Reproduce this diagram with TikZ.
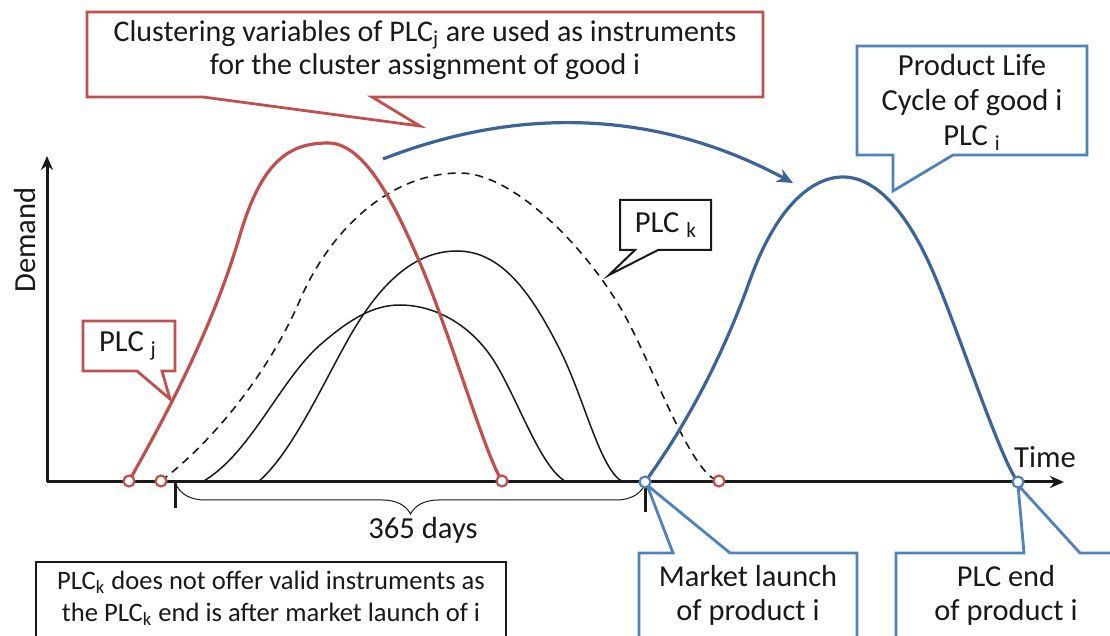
\documentclass[tikz,border=0pt]{standalone}
\usepackage{fontspec}
\setmainfont{Carlito}
\usetikzlibrary{arrows.meta,decorations.pathreplacing}
\definecolor{plcred}{RGB}{192,80,77}
\definecolor{plcblue}{RGB}{60,100,150}
\definecolor{callblue}{RGB}{79,129,189}
\definecolor{ink}{RGB}{25,25,25}
\begin{document}
\begin{tikzpicture}[x=0.5pt,y=-0.5pt,
  axis/.style={line width=1.5pt,ink,-{Stealth[length=7pt,width=6pt]}},
  tickmark/.style={line width=1.5pt,ink},
  redcurve/.style={line width=1.6pt,plcred},
  bluecurve/.style={line width=1.6pt,plcblue},
  othercurve/.style={line width=0.75pt,ink},
  dashcurve/.style={line width=0.8pt,ink,dash pattern=on 4pt off 3pt},
  redring/.style={circle,draw=plcred,fill=white,line width=1.1pt,minimum size=5.5pt,inner sep=0pt},
  bluering/.style={circle,draw=callblue,fill=white,line width=1.1pt,minimum size=5.5pt,inner sep=0pt},
  redcall/.style={draw=plcred,fill=white,line width=1.4pt,line join=miter},
  bluecall/.style={draw=callblue,fill=white,line width=1.4pt,line join=miter},
  blackcall/.style={draw=ink,fill=white,line width=1pt,line join=miter},
  label/.style={font=\fontsize{15.3}{17.5}\selectfont,text=ink,inner sep=0pt,align=center},
  bracestyle/.style={decorate,decoration={brace,mirror,amplitude=14pt},line width=0.5pt,ink}]

\clip (0,0) rectangle (1110,636);
\fill[white] (0,0) rectangle (1110,636);

% axes
\coordinate (O) at (47,482);
\coordinate (ytop) at (47,156);
\coordinate (xend) at (1064,482);
\draw[axis] (O) -- (ytop);
\draw[axis] (O) -- (xend);
\node[label,rotate=90] (demand) at (25,240) {Demand};
\node[label] (time) at (1045,457) {Time};

% end points on the time axis
\coordinate (j0) at (129,481);
\coordinate (j1) at (502,481);
\coordinate (k0) at (161,481);
\coordinate (k1) at (719,481);
\coordinate (a0) at (202,482);
\coordinate (a1) at (567,482);
\coordinate (b0) at (258,482);
\coordinate (b1) at (623,482);
\coordinate (i0) at (645,482);
\coordinate (i1) at (1018,482);

% 365 day window
\coordinate (w0) at (175,482);
\coordinate (w1) at (645,482);
\draw[tickmark] (w0) -- ++(0,26);
\draw[tickmark] (w1) -- ++(0,30);
\draw[bracestyle] (177,486) -- (644,486);
\node[label] (days) at (423,530) {365 days};

% other life cycles
\draw[othercurve] (a0) .. controls (250,455) and (280,380) .. (320,345)
  .. controls (352,317) and (375,305) .. (400,305)
  .. controls (430,305) and (465,320) .. (490,355)
  .. controls (515,390) and (540,470) .. (a1);
\draw[othercurve] (b0) .. controls (290,455) and (320,390) .. (345,345)
  .. controls (375,290) and (410,251) .. (457,251)
  .. controls (500,251) and (530,290) .. (560,350)
  .. controls (585,400) and (600,470) .. (b1);
\draw[dashcurve] (k0) .. controls (215,440) and (270,370) .. (300,300)
  .. controls (330,230) and (390,173) .. (460,173)
  .. controls (510,173) and (580,240) .. (620,307)
  .. controls (650,357) and (690,475) .. (k1);

% PLC j
\draw[redcurve] (j0) .. controls (175,400) and (215,320) .. (240,235)
  .. controls (262,160) and (290,143) .. (328,143)
  .. controls (365,143) and (395,205) .. (420,263)
  .. controls (450,333) and (485,455) .. (j1);

% PLC i
\draw[bluecurve] (i0) .. controls (690,420) and (725,350) .. (750,280)
  .. controls (775,210) and (810,177) .. (843,177)
  .. controls (875,177) and (905,210) .. (930,265)
  .. controls (955,320) and (1000,460) .. (i1);

% transfer arrow
\coordinate (arrS) at (383,159);
\coordinate (arrE) at (793,183);
\draw[bluecurve,-{Stealth[length=8pt,width=7pt]}] (arrS) .. controls (470,125) and (620,90) .. (arrE);

% callouts
\draw[redcall] (87,12) -- (763,12) -- (763,97) -- (372,97) -- (420,126) -- (203,97) -- (87,97) -- cycle;
\node[label,font=\fontsize{15}{16.5}\selectfont] (clust) at (425,50) {Clustering variables of PLC\textsubscript{j} are used as instruments\\for the cluster assignment of good i};

\draw[bluecall] (857,46) -- (1087,46) -- (1087,155) -- (953,155) -- (893,191) -- (893,155) -- (857,155) -- cycle;
\node[label] (plci) at (972,102) {Product Life\\Cycle of good i\\PLC \textsubscript{i}};

\draw[redcall] (83,321) -- (175,321) -- (175,371) -- (162,371) -- (170,399) -- (137,371) -- (83,371) -- cycle;
\node[label] (plcj) at (128,346) {PLC \textsubscript{j}};

\draw[blackcall] (620,200) -- (711,200) -- (711,250) -- (658,250) -- (609,275) -- (635,250) -- (620,250) -- cycle;
\node[label] (plck) at (666,225) {PLC \textsubscript{k}};

\draw[blackcall] (36,562) -- (506,562) -- (506,650) -- (36,650) -- cycle;
\node[label,font=\fontsize{13.3}{16}\selectfont] (note) at (271,598) {PLC\textsubscript{k} does not offer valid instruments as\\the PLC\textsubscript{k} end is after market launch of i};

\draw[bluecall] (639,553) -- (673,553) -- (647,485) -- (730,553) -- (857,553) -- (857,650) -- (639,650) -- cycle;
\node[label,font=\fontsize{15.2}{17}\selectfont] (launch) at (748,595) {Market launch\\of product i};

\draw[bluecall] (896,553) -- (1024,553) -- (1018,485) -- (1080,553) -- (1125,553) -- (1125,650) -- (896,650) -- cycle;
\node[label,font=\fontsize{15.2}{17}\selectfont] (plcend) at (1006,595) {PLC end\\of product i};

% markers
\node[redring] at (j0) {};
\node[redring] at (k0) {};
\node[redring] at (j1) {};
\node[redring] at (k1) {};
\node[bluering] at (i0) {};
\node[bluering] at (i1) {};
\end{tikzpicture}
\end{document}
